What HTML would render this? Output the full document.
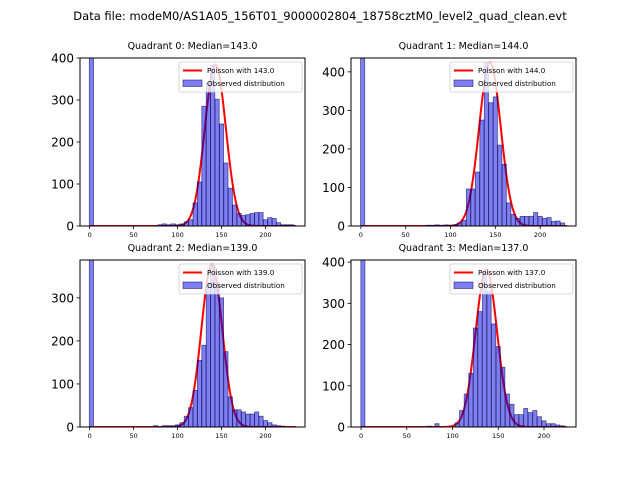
<!DOCTYPE html>
<html><head><meta charset="utf-8"><style>
body{margin:0;background:#fff;}
svg text{font-family:"DejaVu Sans","Liberation Sans",sans-serif;}
</style></head><body>
<svg id="fig" width="640" height="480" xmlns="http://www.w3.org/2000/svg">
<rect width="640" height="480" fill="#fff"/>
<text x="320" y="20" font-size="11.5" text-anchor="middle">Data file: modeM0/AS1A05_156T01_9000002804_18758cztM0_level2_quad_clean.evt</text>
</svg>
<script>
const titles = ["Quadrant 0: Median=143.0","Quadrant 1: Median=144.0","Quadrant 2: Median=139.0","Quadrant 3: Median=137.0"];
const medians = [143.0,144.0,139.0,137.0];
const binWidths = [4.8,4.6,4.8,4.5];
const yMaxes = [400,436,388,405];
const xMaxes = [245,240,245,235];
const yTickSets = [[0,100,200,300,400],[0,100,200,300,400],[0,100,200,300],[0,100,200,300,400]];
const xTicks = [0,50,100,150,200];
const curvePeaks = [385,425,378,382];
const q0Centers = [2,80,85,90,95,100,105,110,115,120,125,130,135,140,145,150,155,160,165,170,175,180,185,190,195,200,205,210,215,220,225,230];
const q0Counts  = [5000,3,5,3,5,3,5,10,15,55,105,285,340,383,302,243,150,90,50,30,25,27,30,32,32,15,20,18,8,3,3,3];
const q1Centers = [2,75,80,85,90,95,100,105,110,115,120,125,130,135,140,145,150,155,160,165,170,175,180,185,190,195,200,205,210,215,220,225];
const q1Counts  = [5000,2,2,3,2,3,2,3,8,15,96,96,140,275,423,320,335,210,160,60,30,20,25,25,25,35,25,20,22,12,13,8];
const q2Centers = [2,75,85,90,95,100,105,110,115,120,125,130,135,140,145,150,155,160,165,170,175,180,185,190,195,200,205,210,215,220];
const q2Counts  = [5000,3,3,3,3,5,10,25,45,85,155,190,335,375,335,300,175,70,40,40,35,30,30,35,25,15,10,5,3,2];
const q3Centers = [2,75,83,105,110,115,120,125,130,135,140,145,150,155,160,165,170,175,180,185,190,195,200,205,210,215,220];
const q3Counts  = [5000,2,8,10,40,80,130,240,280,375,330,250,195,145,80,55,30,30,45,35,40,25,15,8,8,5,3];
const centerSets=[q0Centers,q1Centers,q2Centers,q3Centers];
const countSets=[q0Counts,q1Counts,q2Counts,q3Counts];
const boxes=[{l:80,r:305,t:58,b:226},{l:351,r:576,t:58,b:226},{l:80,r:305,t:260,b:427},{l:351,r:576,t:260,b:427}];
const xMins=[-11,-11,-11,-11];
const NS="http://www.w3.org/2000/svg";
const fig=document.getElementById('fig');
function mk(tag,attrs,parent){const e=document.createElementNS(NS,tag);for(const k in attrs)e.setAttribute(k,attrs[k]);(parent||fig).appendChild(e);return e;}
for(let q=0;q<4;q++){
  const B=boxes[q];
  const xs=v=>B.l+(v-xMins[q])/(xMaxes[q]-xMins[q])*(B.r-B.l);
  const ys=v=>B.b-v/yMaxes[q]*(B.b-B.t);
  const g=mk('g',{});
  
  
  const cp=mk('clipPath',{id:'cp'+q},g);
  mk('rect',{x:B.l,y:B.t,width:B.r-B.l,height:B.b-B.t},cp);
  const bars=mk('g',{'clip-path':'url(#cp'+q+')'},g);
  const lam=medians[q],sd=Math.sqrt(lam);
  let d='';
  for(let v=0;v<=xMaxes[q]-10;v+=0.5){const val=curvePeaks[q]*Math.exp(-((v-lam)**2)/(2*sd*sd));d+=(d?'L':'M')+xs(v).toFixed(2)+','+ys(val).toFixed(2);}
  const p=mk('path',{d:d,fill:'none',stroke:'#ff0000','stroke-width':2},bars);
  
  
  const w=binWidths[q];
  centerSets[q].forEach((c,i)=>{
    const x0=xs(c-w/2),x1=xs(c+w/2),y=ys(countSets[q][i]);
    const r=mk('rect',{x:x0,y:y,width:x1-x0,height:B.b-y,fill:'rgba(0,0,230,0.5)',stroke:'rgba(0,0,80,0.6)','stroke-width':0.8},bars);
    
    
  });
  mk('rect',{x:B.l,y:B.t,width:B.r-B.l,height:B.b-B.t,fill:'none',stroke:'#000','stroke-width':1},g);
  xTicks.forEach(t=>{const x=xs(t);mk('line',{x1:x,x2:x,y1:B.b,y2:B.b+3,stroke:'#000','stroke-width':0.8},g);
    const tx=mk('text',{x:x,y:B.b+11,'font-size':6.5,'text-anchor':'middle'},g);tx.textContent=t;
    
    });
  yTickSets[q].forEach(t=>{const y=ys(t);mk('line',{x1:B.l-3.5,x2:B.l,y1:y,y2:y,stroke:'#000','stroke-width':0.8},g);
    const tx=mk('text',{x:B.l-6,y:y+4.5,'font-size':12,'text-anchor':'end'},g);tx.textContent=t;
    
    });
  const tt=mk('text',{x:(B.l+B.r)/2,y:B.t-9,'font-size':9.5,'text-anchor':'middle'},g);tt.textContent=titles[q];
  
  
  const lg=mk('g',{},g);
  
  
  const lx=B.r-126,ly=B.t+4;
  mk('rect',{x:lx,y:ly,width:123,height:30,fill:'rgba(255,255,255,0.8)',stroke:'#ccc','stroke-width':0.8,rx:2},lg);
  mk('line',{x1:lx+4,x2:lx+23,y1:ly+8.5,y2:ly+8.5,stroke:'#ff0000','stroke-width':2},lg);
  const t1=mk('text',{x:lx+28,y:ly+11,'font-size':7.2},lg);t1.textContent='Poisson with '+medians[q].toFixed(1);
  
  
  mk('rect',{x:lx+4,y:ly+18,width:19,height:6.5,fill:'rgba(0,0,230,0.5)',stroke:'rgba(0,0,80,0.6)','stroke-width':0.8},lg);
  const t2=mk('text',{x:lx+28,y:ly+24,'font-size':7.2},lg);t2.textContent='Observed distribution';
  
  
}
</script>
</body></html>
